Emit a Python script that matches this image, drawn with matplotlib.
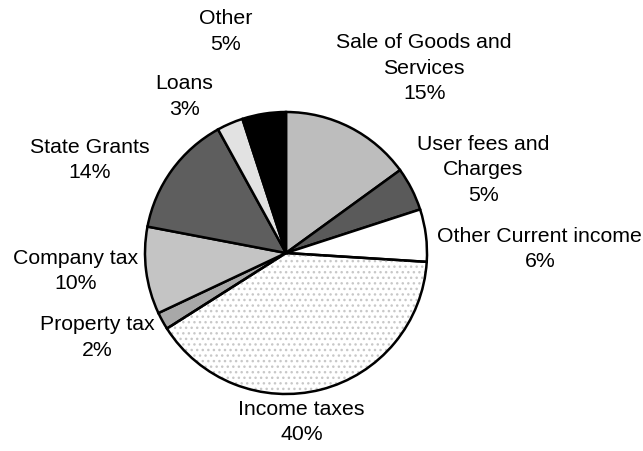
"""
Revenue composition pie chart (grayscale)
"""

import matplotlib
matplotlib.use("Agg")
import matplotlib.pyplot as plt
from matplotlib.patches import Wedge

# data
labels = ["Sale of Goods and\nServices", "User fees and\nCharges", "Other Current income",
          "Income taxes", "Property tax", "Company tax", "State Grants", "Loans", "Other"]
shares = [15, 5, 6, 40, 2, 10, 14, 3, 5]

# styling
face_colors = ["#bdbdbd", "#5a5a5a", "#ffffff", "#ffffff", "#a8a8a8",
               "#c4c4c4", "#5e5e5e", "#e2e2e2", "#000000"]
# label centres (data units, pie radius = 1)
label_pos = [(0.98, 1.31), (1.40, 0.59), (1.80, 0.03), (0.11, -1.20), (-1.34, -0.60),
             (-1.49, -0.13), (-1.39, 0.66), (-0.72, 1.11), (-0.43, 1.57)]

plt.rcParams['font.family'] = ['Liberation Sans', 'DejaVu Sans']

# 643x451 px
fig = plt.figure(figsize=(6.43, 4.51), dpi=100)
ax = fig.add_axes([0, 0, 1, 1])

wedges, _ = ax.pie(shares, colors=face_colors, startangle=90, counterclock=False,
                   wedgeprops=dict(edgecolor="black", linewidth=1.8))

# dotted texture for the income tax slice
w = wedges[3]
dots = Wedge(w.center, w.r, w.theta1, w.theta2, facecolor="none",
             edgecolor="#c8c8c8", linewidth=0, hatch="...")
ax.add_patch(dots)
w.set_zorder(dots.get_zorder() + 1)
w.set_facecolor("none")
bg = Wedge(w.center, w.r, w.theta1, w.theta2, facecolor="white", linewidth=0,
           zorder=dots.get_zorder() - 1)
ax.add_patch(bg)

for lab, s, (x, y) in zip(labels, shares, label_pos):
    ax.text(x, y, f"{lab}\n{s}%", ha="center", va="center", fontsize=15.3,
            linespacing=1.42, color="black")

# pie centre at (286, 253) px, radius 141 px
ax.set_xlim(-286 / 141, (643 - 286) / 141)
ax.set_ylim(-(451 - 253) / 141, 253 / 141)
ax.set_aspect("equal")
ax.axis("off")

plt.savefig("out.png", dpi=100)
plt.close()
